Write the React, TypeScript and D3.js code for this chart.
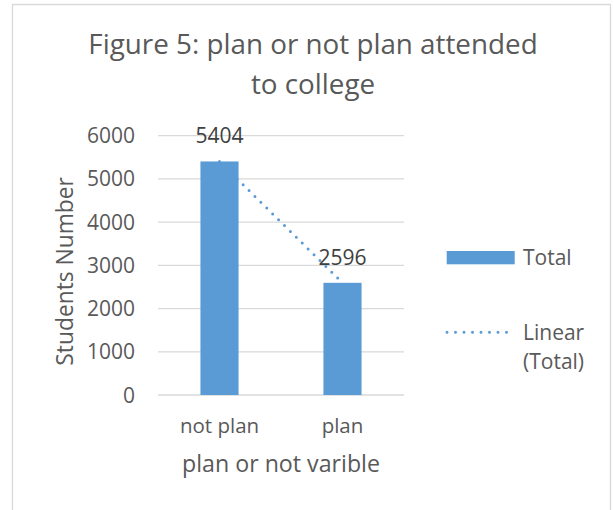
import React from "react";
import * as d3 from "d3";

const categories = ["not plan", "plan"];
const totals = [5404, 2596];
const yTicks = [0, 1000, 2000, 3000, 4000, 5000, 6000];
const titleLines = ["Figure 5: plan or not plan attended", "to college"];
const yTitle = "Students Number";
const xTitle = "plan or not varible";
const legendBar = "Total";
const legendTrend = ["Linear", "(Total)"];

const W = 614;
const H = 510;
const BAR = "#5B9BD5";
const GRID = "#D9D9D9";
const TXT = "#595959";
const FONT = "'Open Sans', 'Segoe UI', sans-serif";

export default function App() {
  const plot = { left: 158, right: 404, top: 135.7, bottom: 395 };
  const x = d3.scaleBand<string>().domain(categories).range([plot.left, plot.right]).padding(0);
  const y = d3.scaleLinear().domain([0, 6000]).range([plot.bottom, plot.top]);
  const barW = x.bandwidth() * 0.31;

  // linear trend through (1, v1), (2, v2)
  const xs = totals.map((_, i) => i + 1);
  const mx = d3.mean(xs) as number;
  const my = d3.mean(totals) as number;
  const slope =
    d3.sum(xs.map((xi, i) => (xi - mx) * (totals[i] - my))) /
    d3.sum(xs.map((xi) => (xi - mx) ** 2));
  const icpt = my - slope * mx;
  const trendPts: [number, number][] = xs.map((xi, i) => [
    (x(categories[i]) as number) + x.bandwidth() / 2,
    y(icpt + slope * xi),
  ]);
  const line = d3.line();

  return (
    <svg width={W} height={H} style={{ position: "absolute", left: 0, top: 0, background: "#fff" }}
      fontFamily={FONT}>
      <rect x={0} y={0} width={W} height={H} fill="#fff" />
      {/* chart border */}
      <path d={`M12.5,${H} V4.5 H610.5 V${H}`} fill="none" stroke={GRID} strokeWidth={1.3} />
      {/* title */}
      {titleLines.map((t, i) => (
        <text key={i} x={313} y={54 + i * 40} textAnchor="middle" fontSize={27.8} fill={TXT}>
          {t}
        </text>
      ))}
      {/* gridlines */}
      {yTicks.map((t) => (
        <line key={t} x1={plot.left} x2={plot.right} y1={y(t)} y2={y(t)} stroke={GRID} strokeWidth={1.3} />
      ))}
      {/* tick labels */}
      {yTicks.map((t) => (
        <text key={"l" + t} x={135} y={y(t)} dy="0.36em" textAnchor="end" fontSize={21} fill={TXT}>
          {t}
        </text>
      ))}
      {/* bars */}
      {categories.map((c, i) => (
        <rect key={c} x={(x(c) as number) + x.bandwidth() / 2 - barW / 2} y={y(totals[i])}
          width={barW} height={y(0) - y(totals[i])} fill={BAR} />
      ))}
      {/* trend line */}
      <path d={line(trendPts) as string} fill="none" stroke={BAR} strokeWidth={3}
        strokeDasharray="0 8.3" strokeLinecap="round" />
      {/* data labels */}
      {categories.map((c, i) => (
        <text key={"d" + c} x={(x(c) as number) + x.bandwidth() / 2} y={y(totals[i]) - 18}
          textAnchor="middle" fontSize={21} fill="#404040">
          {totals[i]}
        </text>
      ))}
      {/* category labels */}
      {categories.map((c) => (
        <text key={"c" + c} x={(x(c) as number) + x.bandwidth() / 2} y={433}
          textAnchor="middle" fontSize={20.5} fill={TXT}>
          {c}
        </text>
      ))}
      {/* axis titles */}
      <text x={(plot.left + plot.right) / 2} y={472} textAnchor="middle" fontSize={23.2} fill={TXT}>
        {xTitle}
      </text>
      <text transform={`translate(73,${(plot.top + plot.bottom) / 2 + 6}) rotate(-90)`} textAnchor="middle"
        fontSize={22.8} fill={TXT}>
        {yTitle}
      </text>
      {/* legend */}
      <rect x={446.7} y={251} width={68} height={13.3} fill={BAR} />
      <text x={523} y={257.5} dy="0.36em" fontSize={21} fill={TXT}>{legendBar}</text>
      <line x1={447} x2={515} y1={332.3} y2={332.3} stroke={BAR} strokeWidth={3}
        strokeDasharray="0 8.5" strokeLinecap="round" />
      {legendTrend.map((t, i) => (
        <text key={t} x={523} y={332 + i * 29.7} dy="0.36em" fontSize={21} fill={TXT}>{t}</text>
      ))}
    </svg>
  );
}
